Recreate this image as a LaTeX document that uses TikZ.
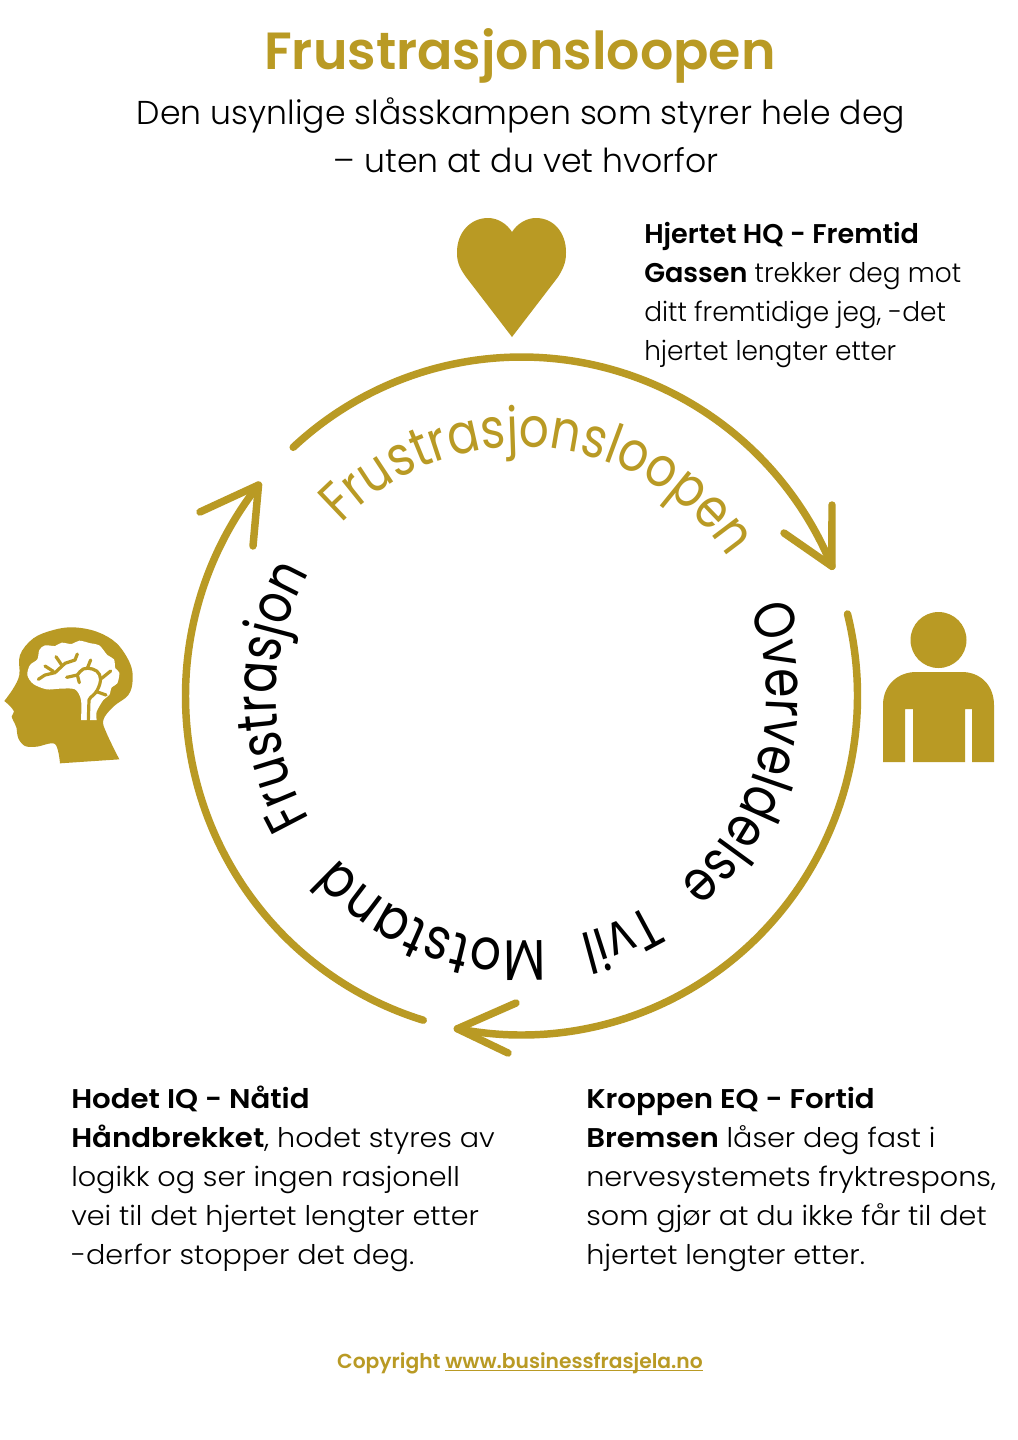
\documentclass[tikz,border=0pt]{standalone}
\usepackage{fontspec}
\setmainfont{Poppins}[UprightFont=* Light,BoldFont=* SemiBold]
\newfontfamily\bodyfont{Poppins}[UprightFont=* Light,BoldFont=* SemiBold,UprightFeatures={FakeStretch=1.058},BoldFeatures={FakeStretch=1.08}]
\newfontfamily\heartfont{Poppins}[UprightFont=* Light,BoldFont=* SemiBold,UprightFeatures={FakeStretch=0.975}]
\newfontfamily\goldcurve{Poppins}[UprightFont=*,FakeStretch=0.85]
\newfontfamily\blackcurve{Poppins}[UprightFont=*,FakeStretch=0.82]
\newfontfamily\widecurve{Poppins}[UprightFont=*,FakeStretch=0.85]
\usetikzlibrary{decorations.text,calc}
\definecolor{gold}{HTML}{B99A24}
\tikzset{
 px/.style={x=0.75pt,y=-0.75pt},
 ring/.style={draw=gold,line width=5.6pt,line cap=round,line join=round},
 body/.style={anchor=north west,inner sep=0pt,align=left,font=\bodyfont\fontsize{20.3}{29.25}\selectfont,text=black},
 heartbody/.style={body,font=\heartfont\fontsize{20.3}{29.25}\selectfont},
 vein/.style={draw=gold,line width=2.4pt,line cap=round,line join=round},
 curved/.style={decorate,decoration={text along path,text align=center,text={#1}}},
}
\newcommand{\gtxt}{\color{gold}\goldcurve\fontsize{41.5}{43}\selectfont}
\newcommand{\btxt}{\color{black}\blackcurve\fontsize{43}{43}\selectfont}
\newcommand{\wtxt}{\color{black}\widecurve\fontsize{43}{43}\selectfont}
\newcommand{\goldul}[1]{\setbox0\hbox{#1}\rlap{\rule[-2.4pt]{\wd0}{1.1pt}}\box0}
\begin{document}
\begin{tikzpicture}[px]
\useasboundingbox (0,0) rectangle (1018,1440);
\fill[white] (0,0) rectangle (1018,1440);
\coordinate (c) at (521.5,696);
% heading
\node[text=gold,font=\fontsize{39.2}{42}\selectfont\bfseries] (title) at (520,56) {Frustrasjonsloopen};
\node[font=\fontsize{24.8}{36}\selectfont,align=center] (sub) at (521,135) {Den usynlige slåsskampen som styrer hele deg\\\hspace*{8pt}– uten at du vet hvorfor};
% ring arcs
\coordinate (a1) at ($(c)+(-132.8:336 and 339)$);
\coordinate (a2) at ($(c)+(-14:336 and 339)$);
\coordinate (a3) at ($(c)+(107:336 and 339)$);
\draw[ring] (a1) arc[start angle=-132.8,end angle=-22.5,x radius=336,y radius=339] coordinate (t1);
\draw[ring] (a2) arc[start angle=-14,end angle=101,x radius=336,y radius=339] coordinate (t2);
\draw[ring] (a3) arc[start angle=107,end angle=218.5,x radius=336,y radius=339] coordinate (t3);
\draw[ring] (832,505) -- (t1) -- (784,533);
\draw[ring] (516,1003) -- (t2) -- (508,1053);
\draw[ring] (200,512) -- (t3) -- (253,546);
% curved words
\path[curved={|\gtxt|Frustrasjonsloopen}] ($(c)+(-155:249)$) arc[start angle=-155,end angle=-15,radius=249];
\path[curved={|\btxt|Overveldelse}] ($(c)+(-35.5:245)$) arc[start angle=-35.5,end angle=64.5,radius=245];
\path[curved={|\btxt|Tvil}] ($(c)+(37.5:245)$) arc[start angle=37.5,end angle=97.5,radius=245];
\path[curved={|\wtxt|Motstand}] ($(c)+(61.5:245)$) arc[start angle=61.5,end angle=161.5,radius=245];
\path[curved={|\btxt|Frustrasjon}] ($(c)+(130:245)$) arc[start angle=130,end angle=230,radius=245];
% heart
\fill[gold] (512,337) -- (466,277) .. controls (458,266) and (457,260) .. (457,252)
  .. controls (457,233) and (470,218) .. (488,218)
  .. controls (498,218) and (507,224) .. (512,232)
  .. controls (517,224) and (526,218) .. (536,218)
  .. controls (554,218) and (566,233) .. (566,252)
  .. controls (566,260) and (565,266) .. (558,277) -- cycle;
% person
\fill[gold] (938.5,640) circle[radius=28];
\fill[gold] (883,762) -- (883,705) .. controls (883,685) and (898,672) .. (916,672)
  -- (962,672) .. controls (980,672) and (994,685) .. (994,705) -- (994,762)
  -- (972,762) -- (972,709) -- (965,709) -- (965,762) -- (913,762) -- (913,709) -- (905,709) -- (905,762) -- cycle;
% head
\begin{scope}[shift={(0,600)},x=0.25pt,y=-0.25pt]
\fill[gold] plot[smooth,tension=0.55] coordinates {(180,490) (165,432) (110,440) (75,438) (55,415) (50,385)} -- plot[smooth,tension=0.4] coordinates {(50,385) (45,372) (35,350) (42,335) (30,318) (13,303)} -- plot[smooth,tension=0.6] coordinates {(13,303) (40,265) (58,225) (60,165) (100,115) (160,90) (220,82) (290,95) (350,130) (390,190) (398,240) (385,285) (340,320) (310,360) (320,400) (358,478)} -- cycle;
\fill[white] plot[smooth,tension=0.5] coordinates {(243,360) (243,300) (225,268) (180,266) (140,268) (100,252) (82,225) (90,195) (112,178) (118,150) (135,136) (165,138) (185,128) (215,132) (238,122) (272,130) (298,136) (322,165) (342,178) (346,205) (358,218) (352,250) (335,262) (328,285) (310,300) (290,335) (290,360)} -- cycle;
\draw[vein] (265,362) -- (267,300) .. controls (270,290) and (285,285) .. (292,270) .. controls (305,245) and (305,225) .. (290,213) .. controls (275,203) and (250,200) .. (240,215) -- (232,225) -- (200,232);
\draw[vein] (305,235) -- (332,213);
\draw[vein] (262,205) -- (272,180);
\draw[vein] (232,225) -- (238,248);
\draw[vein] (290,275) -- (318,285);
\draw[vein] (115,238) -- (135,225) -- (165,218) -- (195,190) -- (225,180) -- (232,162);
\draw[vein] (185,195) -- (168,170);
\draw[vein] (160,214) -- (135,198);
\end{scope}
% text blocks
\node[heartbody] (heart) at (644,222.5) {\textbf{Hjertet HQ - Fremtid}\\\textbf{Gassen} trekker deg mot\\ditt fremtidige jeg, -det\\hjertet lengter etter};
\node[body] (head) at (71,1086) {\textbf{Hodet IQ - Nåtid}\\\textbf{Håndbrekket}, hodet styres av\\logikk og ser ingen rasjonell\\vei til det hjertet lengter etter\\-derfor stopper det deg.};
\node[body] (body) at (586,1087) {\textbf{Kroppen EQ - Fortid}\\\textbf{Bremsen} låser deg fast i\\nervesystemets fryktrespons,\\som gjør at du ikke får til det\\hjertet lengter etter.};
% footer
\node[text=gold,font=\fontsize{15.2}{16}\selectfont\bfseries] (copy) at (520,1363) {Copyright \goldul{www.businessfrasjela.no}};
\end{tikzpicture}
\end{document}
